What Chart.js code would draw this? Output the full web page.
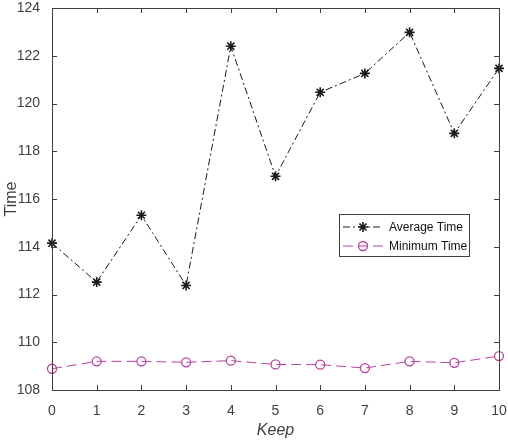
<!DOCTYPE html>
<html>
<head>
<meta charset="utf-8">
<script src="https://cdn.jsdelivr.net/npm/chart.js@4/dist/chart.umd.min.js"></script>
<style>
  body { margin: 0; background: #fff; }
  #graph { display: block; }
</style>
</head>
<body>
<canvas id="graph" width="508" height="443"></canvas>
<script>
/// data ///
const keep = [0, 1, 2, 3, 4, 5, 6, 7, 8, 9, 10]
const averageTime = [114.15, 112.52, 115.32, 112.38, 122.4, 116.95, 120.47, 121.26, 122.98, 118.75, 121.47]
const minimumTime = [108.89, 109.2, 109.2, 109.16, 109.23, 109.07, 109.06, 108.92, 109.2, 109.14, 109.42]
const yTicks = [108, 110, 112, 114, 116, 118, 120, 122, 124]

const axisColor = '#404040'
const magenta = '#b5449f'

//// box + inward ticks like matlab ////
const boxPlugin = {
  id: 'box',
  afterDatasetsDraw(chart) {
    const ctx = chart.ctx
    const a = chart.chartArea
    const xs = chart.scales.x
    const ys = chart.scales.y
    ctx.save()
    ctx.strokeStyle = axisColor
    ctx.lineWidth = 1
    ctx.strokeRect(a.left + 0.5, a.top + 0.5, a.right - a.left, a.bottom - a.top)
    ctx.beginPath()
    keep.forEach(k => {
      const px = Math.round(xs.getPixelForValue(k)) + 0.5
      ctx.moveTo(px, a.bottom); ctx.lineTo(px, a.bottom - 5)
      ctx.moveTo(px, a.top); ctx.lineTo(px, a.top + 5)
    })
    yTicks.forEach(t => {
      const py = Math.round(ys.getPixelForValue(t)) + 0.5
      ctx.moveTo(a.left, py); ctx.lineTo(a.left + 5, py)
      ctx.moveTo(a.right, py); ctx.lineTo(a.right - 5, py)
    })
    ctx.stroke()
    ctx.restore()
  }
}

//// legend inside the plot ////
const legendPlugin = {
  id: 'boxLegend',
  afterDraw(chart) {
    const ctx = chart.ctx
    const bx = 339, by = 214, bw = 130, bh = 42
    ctx.save()
    ctx.fillStyle = '#fff'
    ctx.fillRect(bx, by, bw, bh)
    ctx.strokeStyle = axisColor
    ctx.lineWidth = 1
    ctx.strokeRect(bx + 0.5, by + 0.5, bw, bh)
    chart.data.datasets.forEach((ds, i) => {
      const cy = by + 13 + i * 19
      ctx.strokeStyle = ds.borderColor
      ctx.lineWidth = ds.borderWidth
      ctx.setLineDash(ds.borderDash)
      ctx.beginPath()
      ctx.moveTo(bx + 4, cy); ctx.lineTo(bx + 44, cy)
      ctx.stroke()
      ctx.setLineDash([])
      ctx.fillStyle = ds.pointBackgroundColor
      ctx.strokeStyle = ds.pointBorderColor
      ctx.lineWidth = ds.pointBorderWidth
      Chart.helpers.drawPoint(ctx, {
        pointStyle: ds.pointStyle, radius: ds.pointRadius, rotation: 0, borderWidth: ds.pointBorderWidth
      }, bx + 24, cy)
      ctx.fillStyle = '#111'
      ctx.font = '12px "Liberation Sans", Arial, sans-serif'
      ctx.textBaseline = 'middle'
      ctx.fillText(ds.label, bx + 50, cy + 1)
    })
    ctx.restore()
  }
}

const font = { family: '"Liberation Sans", Arial, sans-serif' }

const myChart = new Chart(document.getElementById('graph').getContext('2d'), {
  type: 'line',
  data: {
    datasets: [{
      label: 'Average Time',
      data: keep.map((k, i) => ({ x: k, y: averageTime[i] })),
      borderColor: '#1a1a1a',
      borderWidth: 1,
      borderDash: [7, 3, 2, 3],
      pointStyle: 'star',
      pointRadius: 5,
      pointBorderWidth: 1.6,
      pointBorderColor: '#1a1a1a',
      pointBackgroundColor: '#1a1a1a',
      tension: 0,
      clip: false
    }, {
      label: 'Minimum Time',
      data: keep.map((k, i) => ({ x: k, y: minimumTime[i] })),
      borderColor: magenta,
      borderWidth: 1,
      borderDash: [10, 5],
      pointStyle: 'circle',
      pointRadius: 4.5,
      pointBorderWidth: 1.3,
      pointBorderColor: magenta,
      pointBackgroundColor: 'rgba(255,255,255,0)',
      tension: 0,
      clip: false
    }]
  },
  options: {
    responsive: false,
    animation: false,
    layout: { padding: { top: 8, right: 9, left: 0, bottom: 0 } },
    plugins: { legend: { display: false }, tooltip: { enabled: false } },
    scales: {
      x: {
        type: 'linear',
        min: 0, max: 10,
        afterBuildTicks: s => { s.ticks = keep.map(v => ({ value: v })) },
        afterFit: s => { s.height = 53; s.paddingLeft = 0; s.paddingRight = 0 },
        grid: { display: false },
        border: { display: false },
        ticks: { color: axisColor, padding: 5, font: { ...font, size: 14 } },
        title: { display: true, text: 'Keep', color: axisColor, padding: { top: 0, bottom: 3 }, font: { ...font, size: 16, style: 'italic' } }
      },
      y: {
        min: 108, max: 124,
        afterBuildTicks: s => { s.ticks = yTicks.map(v => ({ value: v })) },
        afterFit: s => { s.width = 52; s.paddingTop = 0; s.paddingBottom = 0 },
        grid: { display: false },
        border: { display: false },
        ticks: { color: axisColor, padding: 4, font: { ...font, size: 14 } },
        title: { display: true, text: 'Time', color: axisColor, padding: { top: 2, bottom: 0 }, font: { ...font, size: 16 } }
      }
    }
  },
  plugins: [boxPlugin, legendPlugin]
})
</script>
</body>
</html>
